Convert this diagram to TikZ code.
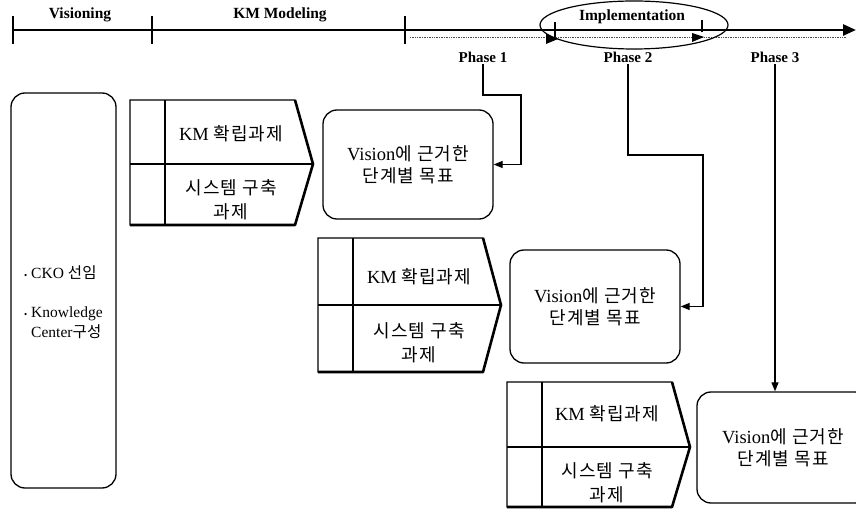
\documentclass[tikz,border=0pt]{standalone}
\usepackage{fontspec}
\setmainfont{Liberation Serif}
\newfontfamily\kr[LetterSpace=6]{Noto Sans CJK KR}
\newfontfamily\krs[LetterSpace=2]{Noto Sans CJK KR}
\usetikzlibrary{arrows.meta}
\newcommand\mychev[4]{%
  \draw[chevthin] (#1,#2) -- ({#1+165},#2) -- ({#1+183},#3) -- ({#1+165},#4) -- (#1,#4) -- cycle;
  \draw[chevthin] ({#1+35},#2) -- ({#1+35},#4);
  \draw[chevthin] (#1,#3) -- ({#1+183},#3);
  \draw[chevthick] ({#1+165},#2) -- ({#1+183},#3) -- ({#1+165},#4) -- (#1,#4);
}
\newcommand\kk[1]{{\fontsize{18}{24}\selectfont\kr #1}}
\begin{document}
\begin{tikzpicture}[x=1pt,y=-1pt,
  chevthin/.style={line width=1.1pt},
  chevthick/.style={line width=2.6pt, line join=round},
  vbox/.style={draw, line width=1.3pt, rounded corners=14pt, align=center,
    font=\fontsize{18.5}{22}\selectfont},
  boxtxt/.style={align=center, font=\fontsize{18.5}{24}\selectfont},
  hdr/.style={font=\fontsize{15.5}{18}\selectfont\bfseries},
  phase/.style={font=\fontsize{15}{18}\selectfont\bfseries, inner sep=2pt},
  conn/.style={line width=1.2pt, -{Triangle[length=9pt,width=7pt]}},
  tick/.style={line width=2pt},
  tri/.style={fill=black}
]
\clip (0,0) rectangle (856,510);

% timeline
\coordinate (t0) at (12,30);
\coordinate (tend) at (856,30);
\draw[line width=2.6pt, -{Triangle[length=13pt,width=11pt]}] (t0) -- (tend);
\draw[tick] (13,16) -- (13,44);
\draw[tick] (152,16) -- (152,44);
\draw[tick] (405,16) -- (405,44);
\draw[densely dotted, line width=0.7pt, black!70] (410,37) -- (846,37);
\draw[line width=1.2pt] (555,22) -- (555,37);
\draw[line width=1.2pt] (702,20) -- (702,32);
\fill[tri] (546,34) -- (558,39) -- (546,44) -- cycle;
\fill[tri] (692,33) -- (704,37) -- (692,42) -- cycle;
\draw[line width=1.2pt] (634,25) ellipse [x radius=94, y radius=24];

\node[hdr] (hv) at (80,15) {Visioning};
\node[hdr] (hk) at (280,15) {KM Modeling};
\node[hdr] (hi) at (632,17) {Implementation};

\node[phase] (ph1) at (483,57) {Phase 1};
\node[phase] (ph2) at (628,57) {Phase 2};
\node[phase] (ph3) at (775,57) {Phase 3};

% left box
\node[draw, line width=1.3pt, rounded corners=14pt, minimum width=105pt, minimum height=395pt]
  (lb) at (63.5,290.5) {};
\node[anchor=north west, align=left, font=\fontsize{15.5}{20}\selectfont, inner sep=0pt]
  (lbt) at (24,265) {{\fontsize{9}{9}\selectfont•} CKO {\krs 선임}\\[19pt]
  {\fontsize{9}{9}\selectfont•} Knowledge\\ \hphantom{{\fontsize{9}{9}\selectfont•} }Center{\krs 구성}};

% chevrons
\mychev{130}{100}{164}{225}
\mychev{318}{238}{305}{372}
\mychev{507}{382}{447}{507}

\node[boxtxt] (km1) at (231,134) {KM \kk{확립과제}};
\node[boxtxt] (sy1) at (231,200) {\kk{시스템 구축}\\\kk{과제}};
\node[boxtxt] (km2) at (419,277) {KM \kk{확립과제}};
\node[boxtxt] (sy2) at (419,343) {\kk{시스템 구축}\\\kk{과제}};
\node[boxtxt] (km3) at (607,414) {KM \kk{확립과제}};
\node[boxtxt] (sy3) at (607,483) {\kk{시스템 구축}\\\kk{과제}};

% vision boxes
\node[vbox, minimum width=170pt, minimum height=109pt] (v1) at (408,164.5)
  {Vision\kk{에 근거한}\\\kk{단계별 목표}};
\node[vbox, minimum width=170pt, minimum height=113pt] (v2) at (595,306.5)
  {Vision\kk{에 근거한}\\\kk{단계별 목표}};
\node[vbox, minimum width=172pt, minimum height=111pt] (v3) at (783,447.5)
  {Vision\kk{에 근거한}\\\kk{단계별 목표}};

% connectors
\coordinate (c1) at (521,95);
\coordinate (c2) at (703,155);
\draw[conn] (ph1.south) |- (c1) |- (v1.east);
\draw[conn] (ph2.south) |- (c2) |- (v2.east);
\draw[conn] (ph3.south) -- (ph3.south |- v3.north);
\end{tikzpicture}
\end{document}
